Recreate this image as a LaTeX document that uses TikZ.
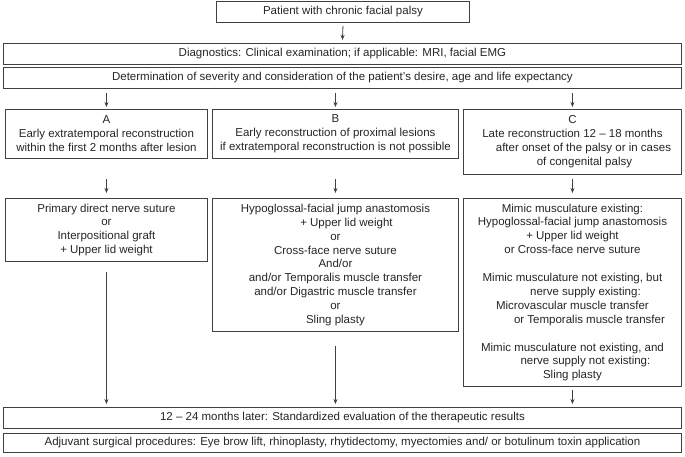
\documentclass[tikz,border=0pt]{standalone}
\usepackage{fontspec}
\setmainfont{Liberation Sans}
\usetikzlibrary{arrows.meta}
\definecolor{linec}{HTML}{404040}
\definecolor{textc}{HTML}{262626}
\tikzset{
  box/.style={draw=linec, line width=0.9pt, anchor=north west, inner sep=0pt, align=center,
    text=textc, font=\fontsize{11.5}{13.9}\selectfont},
  arr/.style={draw=linec, line width=0.8pt, -{Stealth[length=5pt,width=4pt]}}
}
\begin{document}
\begin{tikzpicture}[x=1pt,y=-1pt]
\useasboundingbox[fill=white] (0,0) rectangle (685,457);
\node[box, minimum width=253, minimum height=21] (top) at (216,1) {Patient with chronic facial palsy};
\node[box, minimum width=678, minimum height=21] (diag) at (3,43) {Diagnostics: Clinical examination; if applicable: MRI, facial EMG};
\node[box, minimum width=678, minimum height=21] (det) at (3,67) {Determination of severity and consideration of the patient’s desire, age and life expectancy};
\node[box, minimum width=202, minimum height=49] (A) at (5,109) {A\\Early extratemporal reconstruction\\within the first 2 months after lesion};
\node[box, minimum width=246, minimum height=49] (B) at (212,109) {B\\Early reconstruction of proximal lesions\\if extratemporal reconstruction is not possible};
\node[box, minimum width=218, minimum height=65] (C) at (463,109) {C\\Late reconstruction 12 – 18 months\\\hspace*{22pt}after onset of the palsy or in cases\\\hspace*{24pt}of congenital palsy};
\node[box, minimum width=202, minimum height=63] (A2) at (5,198) {Primary direct nerve suture\\or\\Interpositional graft\\+ Upper lid weight};
\node[box, minimum width=246, minimum height=133] (B2) at (212,198) {Hypoglossal-facial jump anastomosis\\\hspace*{22pt}+ Upper lid weight\\or\\Cross-face nerve suture\\And/or\\and/or Temporalis muscle transfer\\and/or Digastric muscle transfer\\or\\Sling plasty};
\node[box, minimum width=218, minimum height=188] (C2) at (463,198) {Mimic musculature existing:\\Hypoglossal-facial jump anastomosis\\+ Upper lid weight\\or Cross-face nerve suture\\[13.9pt]Mimic musculature not existing, but\\\hspace*{26pt}nerve supply existing:\\Microvascular muscle transfer\\\hspace*{34pt}or Temporalis muscle transfer\\[13.9pt]Mimic musculature not existing, and\\\hspace*{26pt}nerve supply not existing:\\Sling plasty};
\node[box, minimum width=678, minimum height=21] (eval) at (3,407) {12 – 24 months later: Standardized evaluation of the therapeutic results};
\node[box, minimum width=678, minimum height=19] (adj) at (3,433) {Adjuvant surgical procedures: Eye brow lift, rhinoplasty, rhytidectomy, myectomies and/ or botulinum toxin application};
% arrows
\draw[arr] ([yshift=-3pt]top.south) -- ([yshift=3pt]diag.north);
\draw[arr] (A.north |- det.south) ++(0,4) -- ([yshift=2pt]A.north);
\draw[arr] (B.north |- det.south) ++(0,4) -- ([yshift=2pt]B.north);
\draw[arr] (C.north |- det.south) ++(0,4) -- ([yshift=2pt]C.north);
\draw[arr] ([yshift=-20pt]A.south) -- ([yshift=5pt]A2.north);
\draw[arr] ([yshift=-20pt]B.south) -- ([yshift=5pt]B2.north);
\draw[arr] ([yshift=-4pt]C.south) -- ([yshift=5pt]C2.north);
\draw[arr] ([yshift=-10pt]A2.south) -- ([yshift=3pt]A2.south |- eval.north);
\draw[arr] ([yshift=-14pt]B2.south) -- ([yshift=3pt]B2.south |- eval.north);
\draw[arr] ([yshift=-3pt]C2.south) -- ([yshift=3pt]C2.south |- eval.north);
\end{tikzpicture}
\end{document}
